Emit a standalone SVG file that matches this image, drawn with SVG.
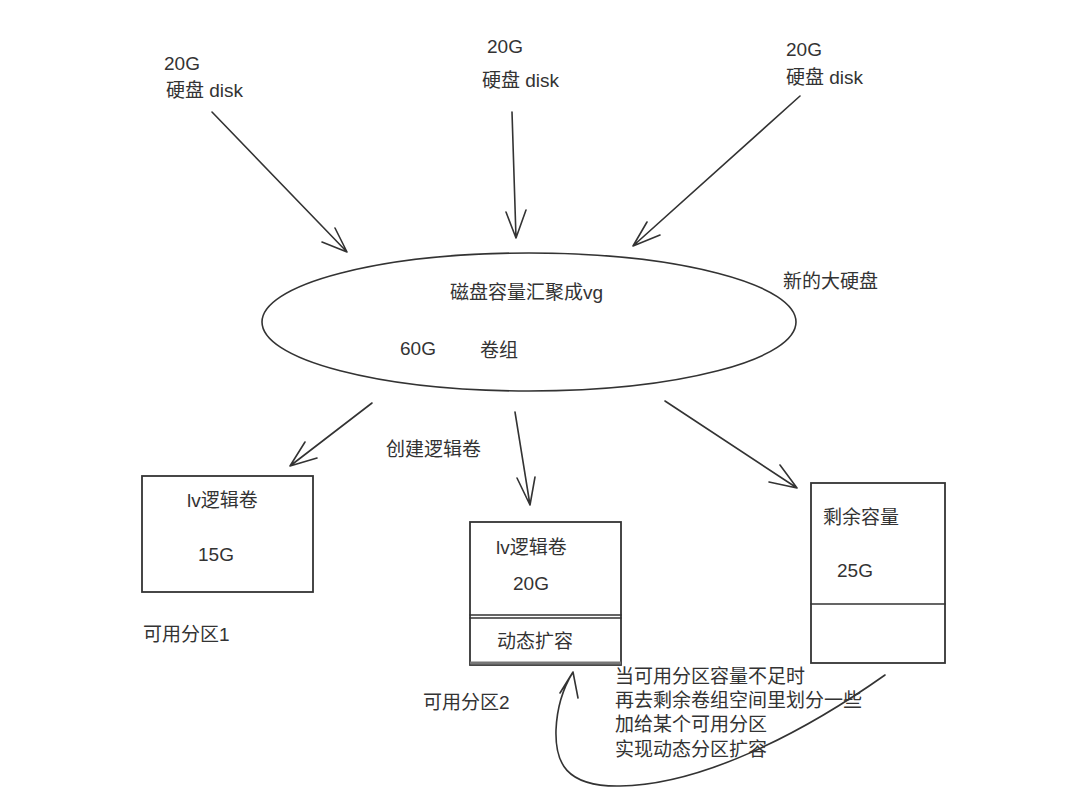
<svg xmlns="http://www.w3.org/2000/svg" width="1075" height="799" viewBox="0 0 1075 799">
<style>
text{font-family:"Liberation Sans","Noto Sans CJK SC",sans-serif;font-size:19px;fill:#333}
.ln{fill:none;stroke:#333;stroke-width:1.6;stroke-linecap:round;stroke-linejoin:round}
.bx{fill:#fff;stroke:#333;stroke-width:1.8}
</style>
<rect width="1075" height="799" fill="#fff"/>
<g id="disk1"><text x="164" y="70">20G</text><text x="166" y="97">硬盘 disk</text></g>
<g id="disk2"><text x="487" y="53">20G</text><text x="482" y="87">硬盘 disk</text></g>
<g id="disk3"><text x="786" y="56">20G</text><text x="786" y="84">硬盘 disk</text></g>
<g id="vg">
<ellipse cx="529" cy="322" rx="267" ry="69" class="ln"/>
<text x="450" y="299">磁盘容量汇聚成vg</text>
<text x="400" y="355">60G</text>
<text x="480" y="357">卷组</text>
</g>
<g id="newdisk"><text x="783" y="288">新的大硬盘</text></g>
<g id="createlv"><text x="386" y="456">创建逻辑卷</text></g>
<g id="lv1">
<rect x="142" y="476" width="171" height="116" class="bx"/>
<text x="187" y="507">lv逻辑卷</text>
<text x="198" y="561">15G</text>
</g>
<g id="part1"><text x="143" y="641">可用分区1</text></g>
<g id="lv2">
<rect x="470" y="522" width="151" height="143" class="bx"/>
<line x1="470" y1="615" x2="621" y2="615" class="ln"/>
<line x1="470" y1="618" x2="621" y2="618" class="ln" stroke-width="1"/>
<line x1="470" y1="663" x2="621" y2="663" stroke="#777" stroke-width="3"/>
<text x="496" y="554">lv逻辑卷</text>
<text x="513" y="590">20G</text>
<text x="497" y="648">动态扩容</text>
</g>
<g id="part2"><text x="423" y="709">可用分区2</text></g>
<g id="rest">
<rect x="811" y="483" width="134" height="180" class="bx"/>
<line x1="811" y1="604" x2="945" y2="604" class="ln" stroke-width="2"/>
<text x="823" y="524">剩余容量</text>
<text x="837" y="577">25G</text>
</g>
<g id="note">
<text x="615" y="683">当可用分区容量不足时</text>
<text x="615" y="707">再去剩余卷组空间里划分一些</text>
<text x="615" y="731">加给某个可用分区</text>
<text x="615" y="756">实现动态分区扩容</text>
</g>
<g id="connectors">
<path class="ln" d="M212,112 L347,252 M335,228 L347,252 L322,242"/>
<path class="ln" d="M512,112 L516,238 M506,212 L516,238 L526,210"/>
<path class="ln" d="M800,96 L633,246 M647,222 L633,246 L660,235"/>
<path class="ln" d="M372,403 L290,466 M305,442 L290,466 L317,458"/>
<path class="ln" d="M515,412 L530,505 M517,478 L530,505 L535,477"/>
<path class="ln" d="M665,401 L797,488 M780,465 L797,488 L769,482"/>
<path class="ln" d="M885,675 C800,735 700,785 620,786 C565,787 555,762 556,730 C557,705 565,685 573,672 M560,693 L573,672 L578,698"/>
</g>
</svg>
